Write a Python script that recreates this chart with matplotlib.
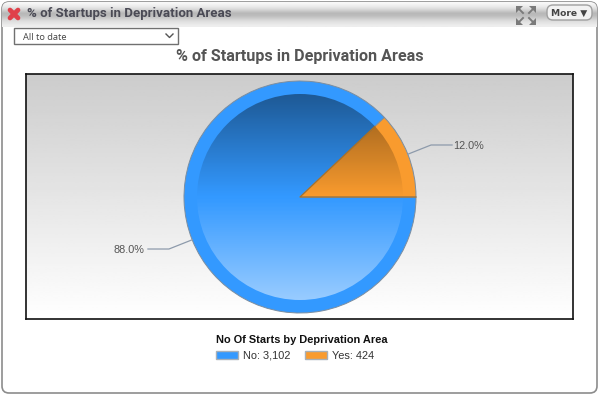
import numpy as np
import matplotlib
matplotlib.use('Agg')
import matplotlib.pyplot as plt
from matplotlib.patches import Circle, FancyBboxPatch, Patch, Polygon, Rectangle

# data
categories = ['No', 'Yes']
starts = [3102, 424]
pct_labels = ['88.0%', '12.0%']
colors = ['#3399FF', '#F99B2E']

title = '% of Startups in Deprivation Areas'
legend_title = 'No Of Starts by Deprivation Area'

W, H = 600, 396
fig = plt.figure(figsize=(W / 100, H / 100), dpi=100, facecolor='white')

# --- page furniture, drawn in pixel coordinates ---
bg = fig.add_axes([0, 0, 1, 1])
bg.set_xlim(0, W)
bg.set_ylim(H, 0)
bg.axis('off')

panel = FancyBboxPatch((2, 2), 595, 391, boxstyle='round,pad=0,rounding_size=7',
                       fc='white', ec='#8c8c8c', lw=1.2, zorder=1)
bg.add_patch(panel)

header = np.array([0.97, 0.93, 0.88, 0.80, 0.72, 0.74, 0.80, 0.86, 0.90, 0.93])[:, None]
im = bg.imshow(header, cmap='gray', vmin=0, vmax=1, extent=(2, 597, 27, 2),
               aspect='auto', zorder=2, interpolation='bilinear')
im.set_clip_path(panel)
bg.set_xlim(0, W)
bg.set_ylim(H, 0)

# red close cross
bg.plot([10, 18], [10, 18], color='#E0404A', lw=3.4, solid_capstyle='round', zorder=3)
bg.plot([18, 10], [10, 18], color='#E0404A', lw=3.4, solid_capstyle='round', zorder=3)

bg.text(27, 13.5, title, fontsize=9.5, fontweight='bold', family='Roboto',
        color='#4a4a55', va='center', ha='left', zorder=3)

# expand icon
for ix, iy, sx, sy in [(520, 10, -1, -1), (532, 10, 1, -1), (520, 21, -1, 1), (532, 21, 1, 1)]:
    bg.add_patch(Polygon([(ix + 4 * sx, iy + 4 * sy), (ix - 3 * sx, iy + 4 * sy),
                          (ix + 4 * sx, iy - 3 * sy)], fc='#7a7a7a', ec='none', zorder=3))
    bg.plot([ix - 3 * sx, ix + 2 * sx], [iy - 3 * sy, iy + 2 * sy], color='#7a7a7a', lw=1.4, zorder=3)

# more button
bg.add_patch(FancyBboxPatch((547, 5), 45, 15, boxstyle='round,pad=0,rounding_size=6',
                            fc='#f2f2f2', ec='#a0a0a0', lw=1, zorder=3))
bg.text(569.5, 13, 'More \u25BC', fontsize=6.6, fontweight='bold', family='DejaVu Sans',
        color='#444444', va='center', ha='center', zorder=4)

# dropdown
bg.add_patch(Rectangle((13.5, 27.5), 164, 16, fc='white', ec='#707070', lw=1, zorder=3))
bg.text(23, 37, 'All to date', fontsize=6.7, family='Open Sans', color='#444444',
        va='center', ha='left', zorder=4)
bg.plot([166, 169.5, 173], [34, 37.5, 34], color='#555555', lw=1, zorder=4)

bg.text(300, 56.5, title, fontsize=11.6, fontweight='bold', family='Roboto',
        color='#555555', va='center', ha='center', zorder=3)

# --- chart ---
x0, x1, y0, y1 = 26, 573, 74, 319
cx, cy = 300, 197
radius = 116
inner = 103
ax = fig.add_axes([x0 / W, 1 - y1 / H, (x1 - x0) / W, (y1 - y0) / H], zorder=2)
ax.set_xlim(x0 - cx, x1 - cx)
ax.set_ylim(cy - y1, cy - y0)
ax.set_xticks([])
ax.set_yticks([])
for s in ax.spines.values():
    s.set_linewidth(1.2)
    s.set_color('#111111')

ax.imshow(np.linspace(0.8, 1.0, 128)[:, None], cmap='gray', vmin=0, vmax=1, aspect='auto',
          extent=(x0 - cx, x1 - cx, cy - y1, cy - y0), zorder=0)

total = sum(starts)
start = starts[1] / total * 360
wedges, _ = ax.pie(starts, colors=colors, radius=radius, center=(0, 0), startangle=start,
                   counterclock=True, frame=True,
                   wedgeprops=dict(edgecolor='#7c8ea0', linewidth=0.7, zorder=2))

# shading inside the pie
shade = np.zeros((256, 2, 4))
t = np.linspace(1, -1, 256)
shade[..., 3] = np.where(t > 0, 0.42 * t, 0.5 * -t)[:, None]
shade[t <= 0, :, :3] = 1
sh = ax.imshow(shade, extent=(-inner, inner, -inner, inner), aspect='auto', zorder=3,
               interpolation='bilinear')
sh.set_clip_path(Circle((0, 0), inner, transform=ax.transData))
ax.set_xlim(x0 - cx, x1 - cx)
ax.set_ylim(cy - y1, cy - y0)
ax.set_aspect('equal')

# wedge edges over the shading
ang = np.deg2rad(start)
ax.plot([inner * np.cos(ang), 0, radius], [inner * np.sin(ang), 0, 0], color='#b0711f', lw=0.8, zorder=4)

# leader lines and percentages
for w, lab in zip(wedges, pct_labels):
    mid = np.deg2rad((w.theta1 + w.theta2) / 2)
    px, py = radius * np.cos(mid), radius * np.sin(mid)
    ex, ey = (radius + 25) * np.cos(mid), (radius + 25) * np.sin(mid)
    side = 1 if np.cos(mid) > 0 else -1
    ax.plot([px, ex, ex + side * 21], [py, ey, ey], color='#8d9aab', lw=0.9, zorder=2)
    ax.text(ex + (22 if side > 0 else -25), ey - 1.2, lab, fontsize=7.8, family='Liberation Sans',
            color='#555555', ha='left' if side > 0 else 'right', va='center')

handles = [Patch(fc=c, ec='#a8b0b8', lw=1) for c in colors]
labels = [f'{n}: {v:,}' for n, v in zip(categories, starts)]
leg = fig.legend(handles, labels, ncol=2, title=legend_title, loc='upper left',
                 bbox_to_anchor=(216 / W, 1 - 335 / H), frameon=False, alignment='left',
                 prop={'family': 'Liberation Sans', 'size': 7.9},
                 title_fontproperties={'family': 'Liberation Sans', 'size': 7.9, 'weight': 'bold'},
                 handlelength=2.0, handleheight=0.85, handletextpad=0.45, columnspacing=1.35,
                 labelspacing=0.2, borderpad=0, borderaxespad=0)
leg._legend_box.sep = 4
for t_ in leg.get_texts():
    t_.set_color('#333333')
leg.get_title().set_color('#111111')

fig.savefig('out.png', dpi=100)
